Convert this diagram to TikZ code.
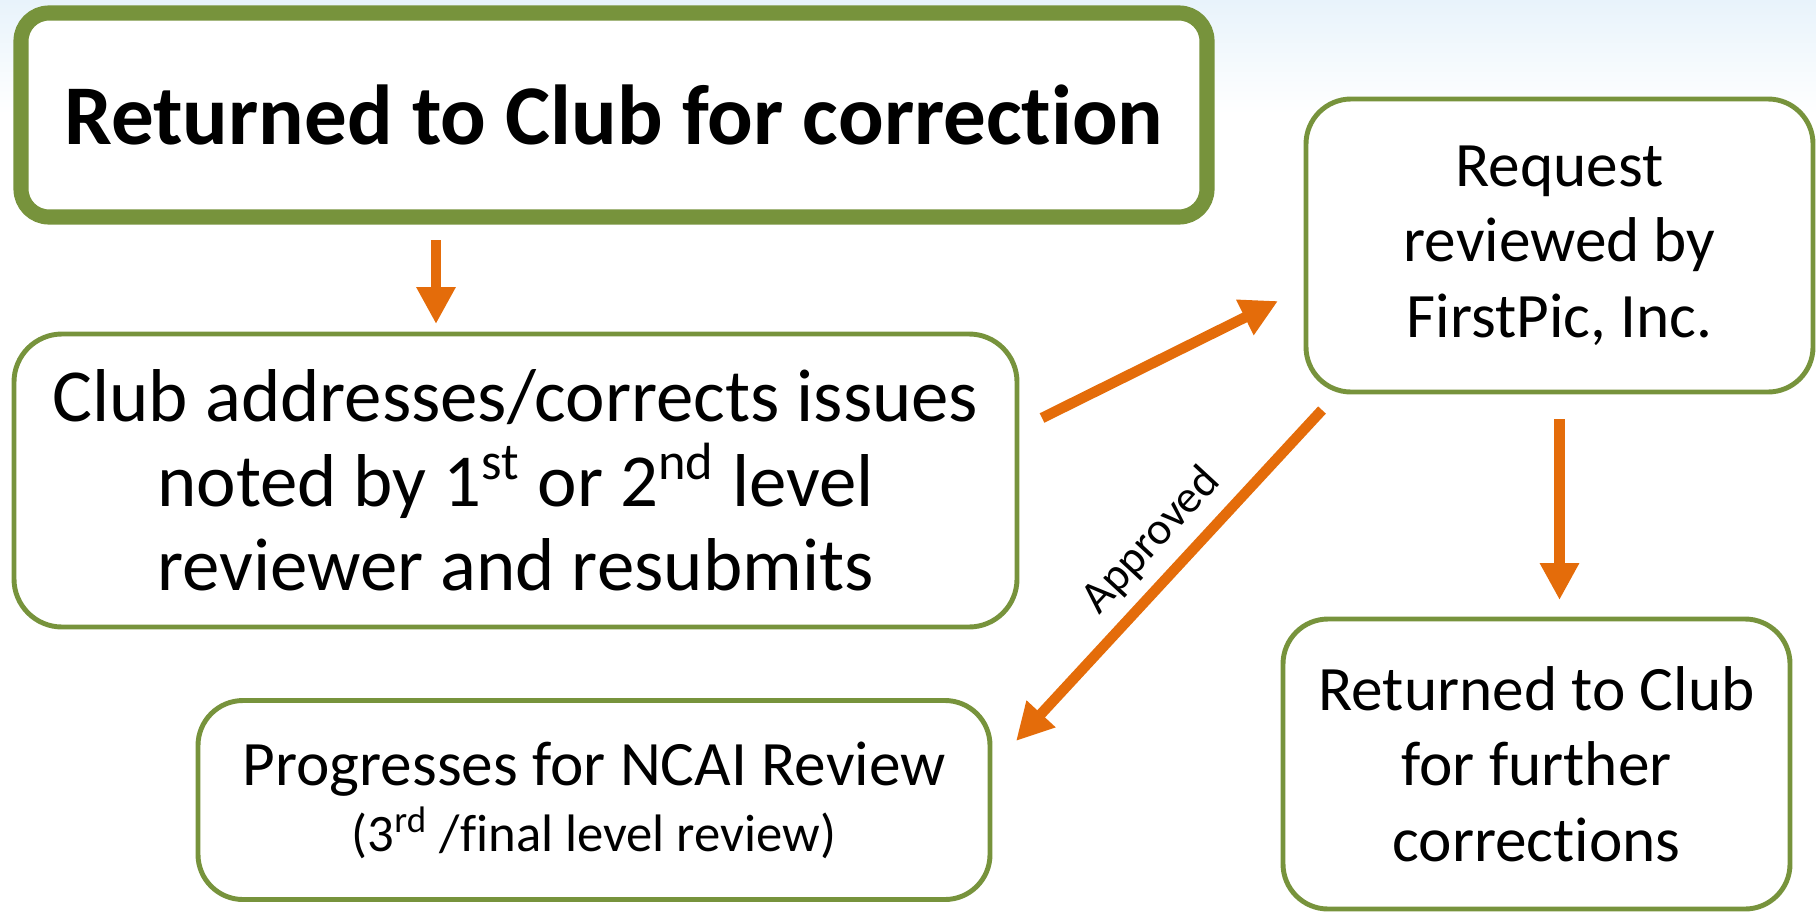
\documentclass[tikz,border=0pt]{standalone}
\usepackage{fontspec}
\setmainfont{Carlito}[Ligatures=NoCommon]
\usetikzlibrary{arrows.meta}

\definecolor{leaf}{RGB}{119,147,60}
\definecolor{flame}{RGB}{228,108,10}
\definecolor{sky}{RGB}{232,243,251}

\begin{document}
\begin{tikzpicture}[
    box/.style={draw=leaf, fill=white, line width=1.4pt, rounded corners=0.45cm,
      align=center, outer sep=0pt, inner sep=0pt},
    flow/.style={draw=flame, line width=3pt, -{Triangle[length=3.7mm,width=3.7mm]}},
    font=\fontsize{18}{21.5}\selectfont]
  \useasboundingbox (0,0) rectangle (18.16,9.14);
  \shade[top color=sky, bottom color=white] (0,8.0) rectangle (18.16,9.14);

  \node[box, line width=4.3pt, rounded corners=0.28cm, minimum width=11.86cm, minimum height=2.04cm,
    font=\fontsize{24.2}{29}\selectfont\bfseries] (top) at (6.14,7.99) {Returned to Club for correction};
  \node[box, rounded corners=0.48cm, minimum width=10.03cm, minimum height=2.93cm,
    font=\fontsize{21.3}{24}\selectfont] (club) at (5.155,4.335)
    {Club addresses/corrects issues\\ noted by 1\textsuperscript{st} or 2\textsuperscript{nd} level\\ reviewer and resubmits};
  \node[box, minimum width=5.07cm, minimum height=2.93cm] (req) at (15.595,6.685)
    {Request\\ reviewed by\\ FirstPic, Inc.};
  \node[box, minimum width=5.07cm, minimum height=2.90cm] (further) at (15.365,1.50)
    {Returned to Club\\ for further\\ corrections};
  \node[box, minimum width=7.92cm, minimum height=1.99cm] (prog) at (5.94,1.14)
    {Progresses for NCAI Review\\[-2.7pt] {\fontsize{15}{18}\selectfont (3\textsuperscript{rd} /final level review)}};

  \draw[flow, shorten <=0.23cm, shorten >=0.10cm] ([xshift=-1.78cm]top.south) -- ([xshift=-0.795cm]club.north);
  \draw[flow] ([shift={(0.25,0.625)}]club.east) -- ([shift={(-0.28,-0.555)}]req.west);
  \draw[flow, shorten <=0.27cm, shorten >=0.19cm] (req.south) -- (req.south |- further.north);
  \draw[flow] ([shift={(0.16,-0.18)}]req.south west) --
    node[pos=0.47, sloped, above, font=\fontsize{13}{15}\selectfont] {Approved}
    ([shift={(0.26,-0.405)}]prog.north east);
\end{tikzpicture}
\end{document}
